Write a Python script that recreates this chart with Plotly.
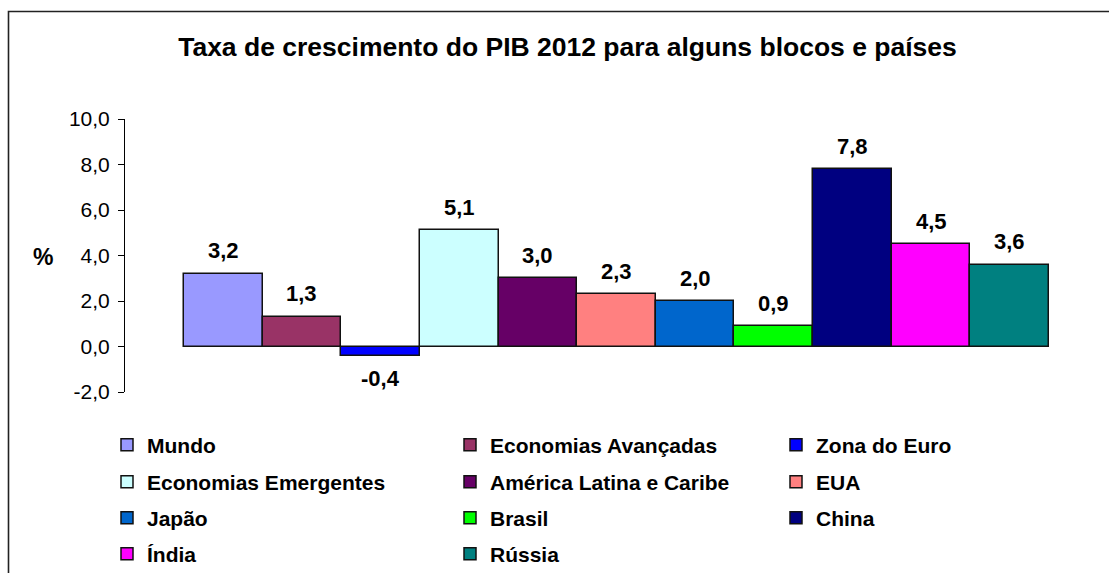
import plotly.graph_objects as go

title_text = "Taxa de crescimento do PIB 2012 para alguns blocos e países"
series_names = ["Mundo", "Economias Avançadas", "Zona do Euro", "Economias Emergentes",
                "América Latina e Caribe", "EUA", "Japão", "Brasil", "China", "Índia", "Rússia"]
series_values = [3.2, 1.3, -0.4, 5.1, 3.0, 2.3, 2.0, 0.9, 7.8, 4.5, 3.6]
series_colors = ["#9999FF", "#993366", "#0000FF", "#CCFFFF", "#660066", "#FF8080",
                 "#0066CC", "#00FF00", "#000080", "#FF00FF", "#008080"]
y_ticks = [-2, 0, 2, 4, 6, 8, 10]
y_tick_labels = ["-2,0", "0,0", "2,0", "4,0", "6,0", "8,0", "10,0"]
y_label = "%"

W, H = 1109, 573
ML, MR, MT, MB = 125, 1, 119, 181
PW = W - ML - MR
PH = H - MT - MB

FONT = "Liberation Sans, Arial, sans-serif"

# legend grid layout (pixels): 3 columns x 4 rows
leg_cols_px = [107, 450, 776]
leg_rows_px = [445, 482, 518, 554]

fig = go.Figure()
for i, (name, val, col) in enumerate(zip(series_names, series_values, series_colors)):
    lg = "legend" if i == 0 else f"legend{i+1}"
    fig.add_trace(go.Bar(
        x=[name], y=[val], name=name,
        marker=dict(color=col, line=dict(color="#111111", width=1.5)),
        legend=lg, showlegend=True,
    ))
    fig.add_annotation(
        x=name, y=val, xref="x", yref="y",
        text=f"{val:.1f}".replace(".", ","),
        showarrow=False,
        yshift=23 if val >= 0 else -23,
        font=dict(family=FONT, size=22, color="black", weight="bold"),
    )

layout_legends = {}
for i in range(len(series_names)):
    key = "legend" if i == 0 else f"legend{i+1}"
    r, c = divmod(i, 3)
    layout_legends[key] = dict(
        xref="container", yref="container",
        x=leg_cols_px[c] / W, y=1 - leg_rows_px[r] / H,
        xanchor="left", yanchor="middle",
        bgcolor="rgba(0,0,0,0)", borderwidth=0,
        font=dict(family=FONT, size=21, color="black", weight="bold"),
    )

fig.update_layout(
    width=W, height=H,
    margin=dict(l=ML, r=MR, t=MT, b=MB, autoexpand=False),
    paper_bgcolor="white", plot_bgcolor="white",
    barmode="overlay", bargap=0,
    showlegend=True,
    title=dict(text=f"<b>{title_text}</b>", x=567.5 / W, xref="container", xanchor="center",
               y=1 - 47 / H, yref="container", yanchor="middle",
               font=dict(family=FONT, size=26.5, color="black")),
    **layout_legends,
)

fig.update_xaxes(visible=False, range=[-1.25, len(series_names) - 1 + 1.25],
                 categoryorder="array", categoryarray=series_names)
fig.update_yaxes(range=[-2, 10], tickvals=y_ticks, ticktext=y_tick_labels,
                 showline=True, linecolor="black", linewidth=1,
                 ticks="outside", ticklen=6, tickcolor="black", tickwidth=1,
                 showgrid=False, zeroline=False, ticklabelstandoff=4,
                 tickfont=dict(family=FONT, size=21, color="black"))

fig.add_annotation(xref="paper", yref="paper", x=(43 - ML) / PW, y=(H - MB - 257) / PH,
                   text=f"<b>{y_label}</b>", showarrow=False, xanchor="center", yanchor="middle",
                   font=dict(family=FONT, size=23, color="black"))

# outer chart frame (cropped at right and bottom)
fx0 = (8.5 - ML) / PW
fx1 = (W + 10 - ML) / PW
fy1 = (H - MB - 11.5) / PH
fy0 = (H - MB - (H + 10)) / PH
fig.add_shape(type="path", xref="paper", yref="paper",
              path=f"M {fx0} {fy0} L {fx0} {fy1} L {fx1} {fy1}",
              line=dict(color="#222222", width=1.6), layer="above")

fig.write_html("out.html", config={"displayModeBar": False},
               post_script="document.body.style.margin='0';document.body.style.overflow='hidden';")
